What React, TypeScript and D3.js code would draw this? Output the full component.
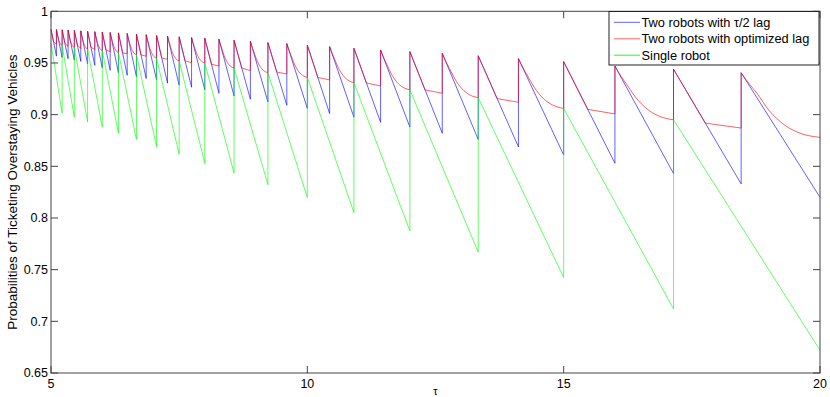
import React, { useEffect } from "react";
import * as d3 from "d3";

// jump positions on the tau axis (every sawtooth restart)
const jumpTau = [
  5, 5.106, 5.217, 5.333, 5.455, 5.581, 5.714, 5.854, 6, 6.154, 6.316, 6.486, 6.667,
  6.857, 7.059, 7.273, 7.5, 7.742, 8, 8.276, 8.571, 8.889, 9.231, 9.6, 10, 10.435,
  10.909, 11.429, 12, 12.632, 13.333, 14.118, 15, 16, 17.143, 18.462, 20,
];

// two robots with tau/2 lag: value right after each jump and right before the next one
const bluePeak = [
  0.9826, 0.9824, 0.9821, 0.9818, 0.9815, 0.9811, 0.9807, 0.9803, 0.9799, 0.9795, 0.9791,
  0.9786, 0.978, 0.9774, 0.9767, 0.976, 0.9753, 0.9746, 0.9739, 0.973, 0.972, 0.971,
  0.9697, 0.9687, 0.9672, 0.9658, 0.9642, 0.9626, 0.961, 0.9594, 0.957, 0.9542, 0.9513,
  0.947, 0.944, 0.9405,
];
const blueEnd = [
  0.9566, 0.9554, 0.9541, 0.9528, 0.9515, 0.9491, 0.9477, 0.9453, 0.9429, 0.9405, 0.9381,
  0.9366, 0.935, 0.9336, 0.9305, 0.9285, 0.9265, 0.924, 0.9207, 0.918, 0.915, 0.9123,
  0.909, 0.906, 0.901, 0.8975, 0.8926, 0.888, 0.882, 0.876, 0.8688, 0.861, 0.853,
  0.843, 0.833, 0.82,
];

// two robots with optimized lag: samples inside each segment
const redCurveAt = [0, 0.1, 0.2, 0.35, 0.55, 0.75, 1];
const redBendAt = [0, 0.47, 1];
const redRows = [
  [0.9826, 0.9704, 0.968],
  [0.9824, 0.9795, 0.9772, 0.9735, 0.9701, 0.9681, 0.967],
  [0.9821, 0.9689, 0.966],
  [0.9818, 0.9787, 0.9761, 0.9721, 0.9684, 0.9662, 0.965],
  [0.9815, 0.9674, 0.964],
  [0.9811, 0.9778, 0.9751, 0.971, 0.967, 0.9647, 0.9635],
  [0.9807, 0.9652, 0.963],
  [0.9803, 0.9769, 0.9741, 0.9698, 0.9657, 0.9633, 0.962],
  [0.9799, 0.9625, 0.961],
  [0.9795, 0.9759, 0.9729, 0.9683, 0.9639, 0.9614, 0.96],
  [0.9791, 0.9598, 0.959],
  [0.9786, 0.9748, 0.9716, 0.9667, 0.9621, 0.9594, 0.958],
  [0.978, 0.9578, 0.9565],
  [0.9774, 0.9732, 0.9696, 0.9642, 0.9591, 0.9561, 0.9545],
  [0.9767, 0.9548, 0.9536],
  [0.976, 0.9716, 0.9678, 0.9622, 0.9568, 0.9537, 0.952],
  [0.9753, 0.9521, 0.9503],
  [0.9746, 0.97, 0.9662, 0.9604, 0.9549, 0.9517, 0.95],
  [0.9739, 0.9488, 0.947],
  [0.973, 0.9678, 0.9635, 0.9569, 0.9506, 0.947, 0.945],
  [0.972, 0.9452, 0.9426],
  [0.971, 0.9654, 0.9607, 0.9535, 0.9467, 0.9427, 0.9406],
  [0.9697, 0.9412, 0.9394],
  [0.9687, 0.9627, 0.9576, 0.9499, 0.9425, 0.9383, 0.936],
  [0.9672, 0.936, 0.9336],
  [0.9658, 0.9594, 0.954, 0.9458, 0.938, 0.9334, 0.931],
  [0.9642, 0.9306, 0.9278],
  [0.9626, 0.9555, 0.9495, 0.9404, 0.9317, 0.9267, 0.924],
  [0.961, 0.9239, 0.9207],
  [0.9594, 0.9514, 0.9448, 0.9346, 0.925, 0.9194, 0.9164],
  [0.957, 0.9155, 0.912],
  [0.9542, 0.9453, 0.9378, 0.9264, 0.9156, 0.9094, 0.906],
  [0.9513, 0.9051, 0.9007],
  [0.947, 0.9374, 0.9293, 0.917, 0.9054, 0.8986, 0.895],
  [0.944, 0.8918, 0.887],
  [0.9405, 0.93, 0.9207, 0.9045, 0.89, 0.882, 0.878],
];

// single robot: restarts at every second jump
const greenPeak = [
  0.969, 0.967, 0.965, 0.9635, 0.962, 0.96, 0.958, 0.9545, 0.952, 0.95, 0.945, 0.9406,
  0.936, 0.931, 0.924, 0.9164, 0.906, 0.895,
];
const greenEnd = [
  0.9014, 0.8975, 0.893, 0.888, 0.882, 0.876, 0.869, 0.8617, 0.853, 0.8433, 0.8323,
  0.8197, 0.8052, 0.7875, 0.767, 0.7424, 0.712, 0.672,
];

const xTicks = [5, 10, 15, 20];
const yTicks = [0.65, 0.7, 0.75, 0.8, 0.85, 0.9, 0.95, 1];
const legendLabels = ["Two robots with \u03c4/2 lag", "Two robots with optimized lag", "Single robot"];
const legendColors = ["#0000ff", "#ff0000", "#00ff00"];

const W = 830;
const H = 397;
const font = "'Liberation Sans', Arial, sans-serif";

export default function App() {
  useEffect(() => {
    document.body.style.margin = "0";
  }, []);

  const left = 51, right = 820, top = 11.3, bottom = 373;
  const x = d3.scaleLinear().domain([5, 20]).range([left, right]);
  const y = d3.scaleLinear().domain([0.65, 1]).range([bottom, top]);

  const line = d3.line<[number, number]>().x((d) => x(d[0])).y((d) => y(d[1]));
  const smooth = d3
    .line<[number, number]>()
    .x((d) => x(d[0]))
    .y((d) => y(d[1]))
    .curve(d3.curveMonotoneX);

  const bluePts: [number, number][] = [];
  bluePeak.forEach((p, i) => {
    bluePts.push([jumpTau[i], p]);
    bluePts.push([jumpTau[i + 1], blueEnd[i]]);
  });

  const redSegs = redRows.map((row, i) => {
    const fr = row.length === 3 ? redBendAt : redCurveAt;
    const t0 = jumpTau[i];
    const t1 = jumpTau[i + 1];
    return row.map((v, k) => [t0 + (t1 - t0) * fr[k], v] as [number, number]);
  });

  const greenTau = jumpTau.filter((_, i) => i % 2 === 0);
  const greenPts: [number, number][] = [];
  greenPeak.forEach((p, i) => {
    greenPts.push([greenTau[i], p]);
    greenPts.push([greenTau[i + 1], greenEnd[i]]);
  });

  const lineStyle = { fill: "none", strokeWidth: 1, strokeOpacity: 0.62 };
  const tickLen = 7;

  return (
    <svg
      width={W}
      height={H}
      style={{ position: "absolute", left: 0, top: 0, background: "#fff" }}
      fontFamily={font}
    >
      <rect x={0} y={0} width={W} height={H} fill="#fff" />

      <path d={line(bluePts) || ""} stroke="#0000ff" {...lineStyle} />
      {redSegs.map((seg, i) => (
        <path
          key={`r${i}`}
          d={(seg.length === 3 ? line(seg) : smooth(seg)) || ""}
          stroke="#ff0000"
          {...lineStyle}
        />
      ))}
      {redSegs.slice(0, -1).map((seg, i) => (
        <line
          key={`rv${i}`}
          x1={x(jumpTau[i + 1])}
          x2={x(jumpTau[i + 1])}
          y1={y(seg[seg.length - 1][1])}
          y2={y(redRows[i + 1][0])}
          stroke="#ff0000"
          strokeWidth={1}
          strokeOpacity={0.62}
        />
      ))}
      <path d={line(greenPts) || ""} stroke="#00ff00" {...lineStyle} />

      {/* axes box */}
      <rect x={left} y={top} width={right - left} height={bottom - top} fill="none" stroke="#444" strokeWidth={1} />
      {xTicks.map((t) => (
        <g key={`x${t}`}>
          <line x1={x(t)} x2={x(t)} y1={bottom} y2={bottom - tickLen} stroke="#444" />
          <line x1={x(t)} x2={x(t)} y1={top} y2={top + tickLen} stroke="#444" />
          <text x={x(t)} y={388} textAnchor="middle" fontSize={12.5} fill="#000">
            {t}
          </text>
        </g>
      ))}
      {yTicks.map((t) => (
        <g key={`y${t}`}>
          <line x1={left} x2={left + tickLen} y1={y(t)} y2={y(t)} stroke="#444" />
          <line x1={right} x2={right - tickLen} y1={y(t)} y2={y(t)} stroke="#444" />
          <text x={left - 3} y={y(t)} dy="0.35em" textAnchor="end" fontSize={12.5} fill="#000">
            {String(+t.toFixed(2))}
          </text>
        </g>
      ))}

      <text x={(left + right) / 2} y={395} textAnchor="middle" fontSize={11} fill="#000">
        {"\u03c4"}
      </text>
      <text
        transform={`translate(12,${(top + bottom) / 2}) rotate(-90)`}
        textAnchor="middle"
        dy="0.35em"
        fontSize={13.5}
        fill="#000"
      >
        Probabilities of Ticketing Overstaying Vehicles
      </text>

      {/* legend */}
      <g>
        <rect x={609} y={11.5} width={210} height={53.5} fill="#fff" stroke="#222" strokeWidth={1} />
        {legendLabels.map((lab, i) => {
          const ry = 22.3 + i * 16.5;
          return (
            <g key={lab}>
              <line x1={614} x2={640} y1={ry} y2={ry} stroke={legendColors[i]} strokeWidth={i === 2 ? 1.5 : 1} strokeOpacity={0.62} />
              <text x={641.5} y={ry} dy="0.35em" fontSize={12.8} fill="#000">
                {lab}
              </text>
            </g>
          );
        })}
      </g>
    </svg>
  );
}
